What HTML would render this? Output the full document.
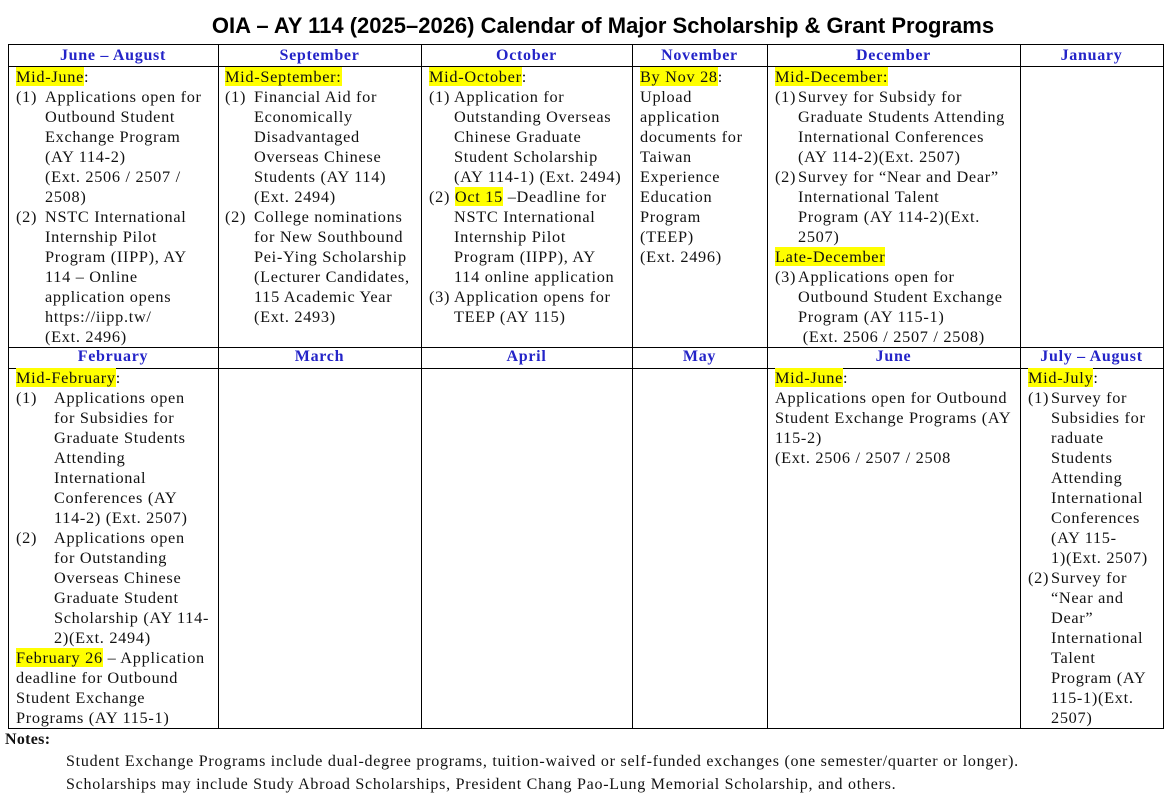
<!DOCTYPE html>
<html><head><meta charset="utf-8"><style>
body{margin:0;width:1174px;height:807px;background:#fff;position:relative;overflow:hidden;font-family:"Liberation Serif",serif;color:#111}
.t{position:absolute;left:16px;width:1174px;top:13px;text-align:center;font:bold 22px "Liberation Sans",sans-serif;color:#000;letter-spacing:0px}
.h{position:absolute;height:20px;line-height:20px;text-align:center;font-weight:bold;color:#2424c8;font-size:16px;letter-spacing:0.7px;top:0}
.b{position:absolute;font-size:16.3px;line-height:20px;white-space:nowrap;letter-spacing:0.7px}
.y{background:#ffff00}
.l{position:absolute;background:#000}
.n{position:absolute;font-size:16px;white-space:nowrap;letter-spacing:0.75px}
</style></head><body>
<div class="t">OIA – AY 114 (2025–2026) Calendar of Major Scholarship &amp; Grant Programs</div>
<div class="l" style="left:8px;top:44px;width:1156px;height:1px"></div>
<div class="l" style="left:8px;top:66px;width:1156px;height:1px"></div>
<div class="l" style="left:8px;top:347px;width:1156px;height:1px"></div>
<div class="l" style="left:8px;top:368px;width:1156px;height:1px"></div>
<div class="l" style="left:8px;top:728px;width:1156px;height:1px"></div>
<div class="l" style="left:8px;top:44px;width:1px;height:685px"></div>
<div class="l" style="left:218px;top:44px;width:1px;height:685px"></div>
<div class="l" style="left:421px;top:44px;width:1px;height:685px"></div>
<div class="l" style="left:632px;top:44px;width:1px;height:685px"></div>
<div class="l" style="left:767px;top:44px;width:1px;height:685px"></div>
<div class="l" style="left:1020px;top:44px;width:1px;height:685px"></div>
<div class="l" style="left:1163px;top:44px;width:1px;height:685px"></div>
<div class="h" style="left:8px;width:210px;top:46px">June – August</div>
<div class="h" style="left:218px;width:203px;top:46px">September</div>
<div class="h" style="left:421px;width:211px;top:46px">October</div>
<div class="h" style="left:632px;width:135px;top:46px">November</div>
<div class="h" style="left:767px;width:253px;top:46px">December</div>
<div class="h" style="left:1020px;width:143px;top:46px">January</div>
<div class="h" style="left:8px;width:210px;top:347px">February</div>
<div class="h" style="left:218px;width:203px;top:347px">March</div>
<div class="h" style="left:421px;width:211px;top:347px">April</div>
<div class="h" style="left:632px;width:135px;top:347px">May</div>
<div class="h" style="left:767px;width:253px;top:347px">June</div>
<div class="h" style="left:1020px;width:143px;top:347px">July – August</div>
<div class="b" style="left:16px;top:67px"><span class="y">Mid-June</span>:<br>(1)<br><br><br><br><br><br>(2)</div>
<div class="b" style="left:45px;top:87px">Applications open for<br>Outbound Student<br>Exchange Program<br>(AY 114-2)<br>(Ext. 2506 / 2507 /<br>2508)<br>NSTC International<br>Internship Pilot<br>Program (IIPP), AY<br>114 – Online<br>application opens<br>https://iipp.tw/<br>(Ext. 2496)</div>
<div class="b" style="left:225px;top:67px"><span class="y">Mid-September:</span><br>(1)<br><br><br><br><br><br>(2)</div>
<div class="b" style="left:254px;top:87px">Financial Aid for<br>Economically<br>Disadvantaged<br>Overseas Chinese<br>Students (AY 114)<br>(Ext. 2494)<br>College nominations<br>for New Southbound<br>Pei-Ying Scholarship<br>(Lecturer Candidates,<br>115 Academic Year<br>(Ext. 2493)</div>
<div class="b" style="left:429px;top:67px"><span class="y">Mid-October</span>:<br>(1)<br><br><br><br><br>(2) <span class="y">Oct 15</span> –Deadline for<br><br><br><br><br>(3)</div>
<div class="b" style="left:454px;top:87px">Application for<br>Outstanding Overseas<br>Chinese Graduate<br>Student Scholarship<br>(AY 114-1) (Ext. 2494)<br><br>NSTC International<br>Internship Pilot<br>Program (IIPP), AY<br>114 online application<br>Application opens for<br>TEEP (AY 115)</div>
<div class="b" style="left:640px;top:67px"><span class="y">By Nov 28</span>:<br>Upload<br>application<br>documents for<br>Taiwan<br>Experience<br>Education<br>Program<br>(TEEP)<br>(Ext. 2496)</div>
<div class="b" style="left:775px;top:67px"><span class="y">Mid-December:</span><br>(1)<br><br><br><br>(2)<br><br><br><br><span class="y">Late-December</span><br>(3)</div>
<div class="b" style="left:798px;top:87px">Survey for Subsidy for<br>Graduate Students Attending<br>International Conferences<br>(AY 114-2)(Ext. 2507)<br>Survey for “Near and Dear”<br>International Talent<br>Program (AY 114-2)(Ext.<br>2507)<br><br>Applications open for<br>Outbound Student Exchange<br>Program (AY 115-1)<br>&nbsp;(Ext. 2506 / 2507 / 2508)</div>
<div class="b" style="left:16px;top:368px"><span class="y">Mid-February</span>:<br>(1)<br><br><br><br><br><br><br>(2)<br><br><br><br><br><br><span class="y">February 26</span> – Application<br>deadline for Outbound<br>Student Exchange<br>Programs (AY 115-1)</div>
<div class="b" style="left:54px;top:388px">Applications open<br>for Subsidies for<br>Graduate Students<br>Attending<br>International<br>Conferences (AY<br>114-2) (Ext. 2507)<br>Applications open<br>for Outstanding<br>Overseas Chinese<br>Graduate Student<br>Scholarship (AY 114-<br>2)(Ext. 2494)</div>
<div class="b" style="left:775px;top:368px"><span class="y">Mid-June</span>:<br>Applications open for Outbound<br>Student Exchange Programs (AY<br>115-2)<br>(Ext. 2506 / 2507 / 2508</div>
<div class="b" style="left:1028px;top:368px"><span class="y">Mid-July</span>:<br>(1)<br><br><br><br><br><br><br><br><br>(2)</div>
<div class="b" style="left:1051px;top:388px">Survey for<br>Subsidies for<br>raduate<br>Students<br>Attending<br>International<br>Conferences<br>(AY 115-<br>1)(Ext. 2507)<br>Survey for<br>“Near and<br>Dear”<br>International<br>Talent<br>Program (AY<br>115-1)(Ext.<br>2507)</div>
<div class="n" style="left:5px;top:731px;font-weight:bold;letter-spacing:0.3px">Notes:</div>
<div class="n" style="left:66px;top:753px">Student Exchange Programs include dual-degree programs, tuition-waived or self-funded exchanges (one semester/quarter or longer).</div>
<div class="n" style="left:66px;top:776px">Scholarships may include Study Abroad Scholarships, President Chang Pao-Lung Memorial Scholarship, and others.</div>
</body></html>
